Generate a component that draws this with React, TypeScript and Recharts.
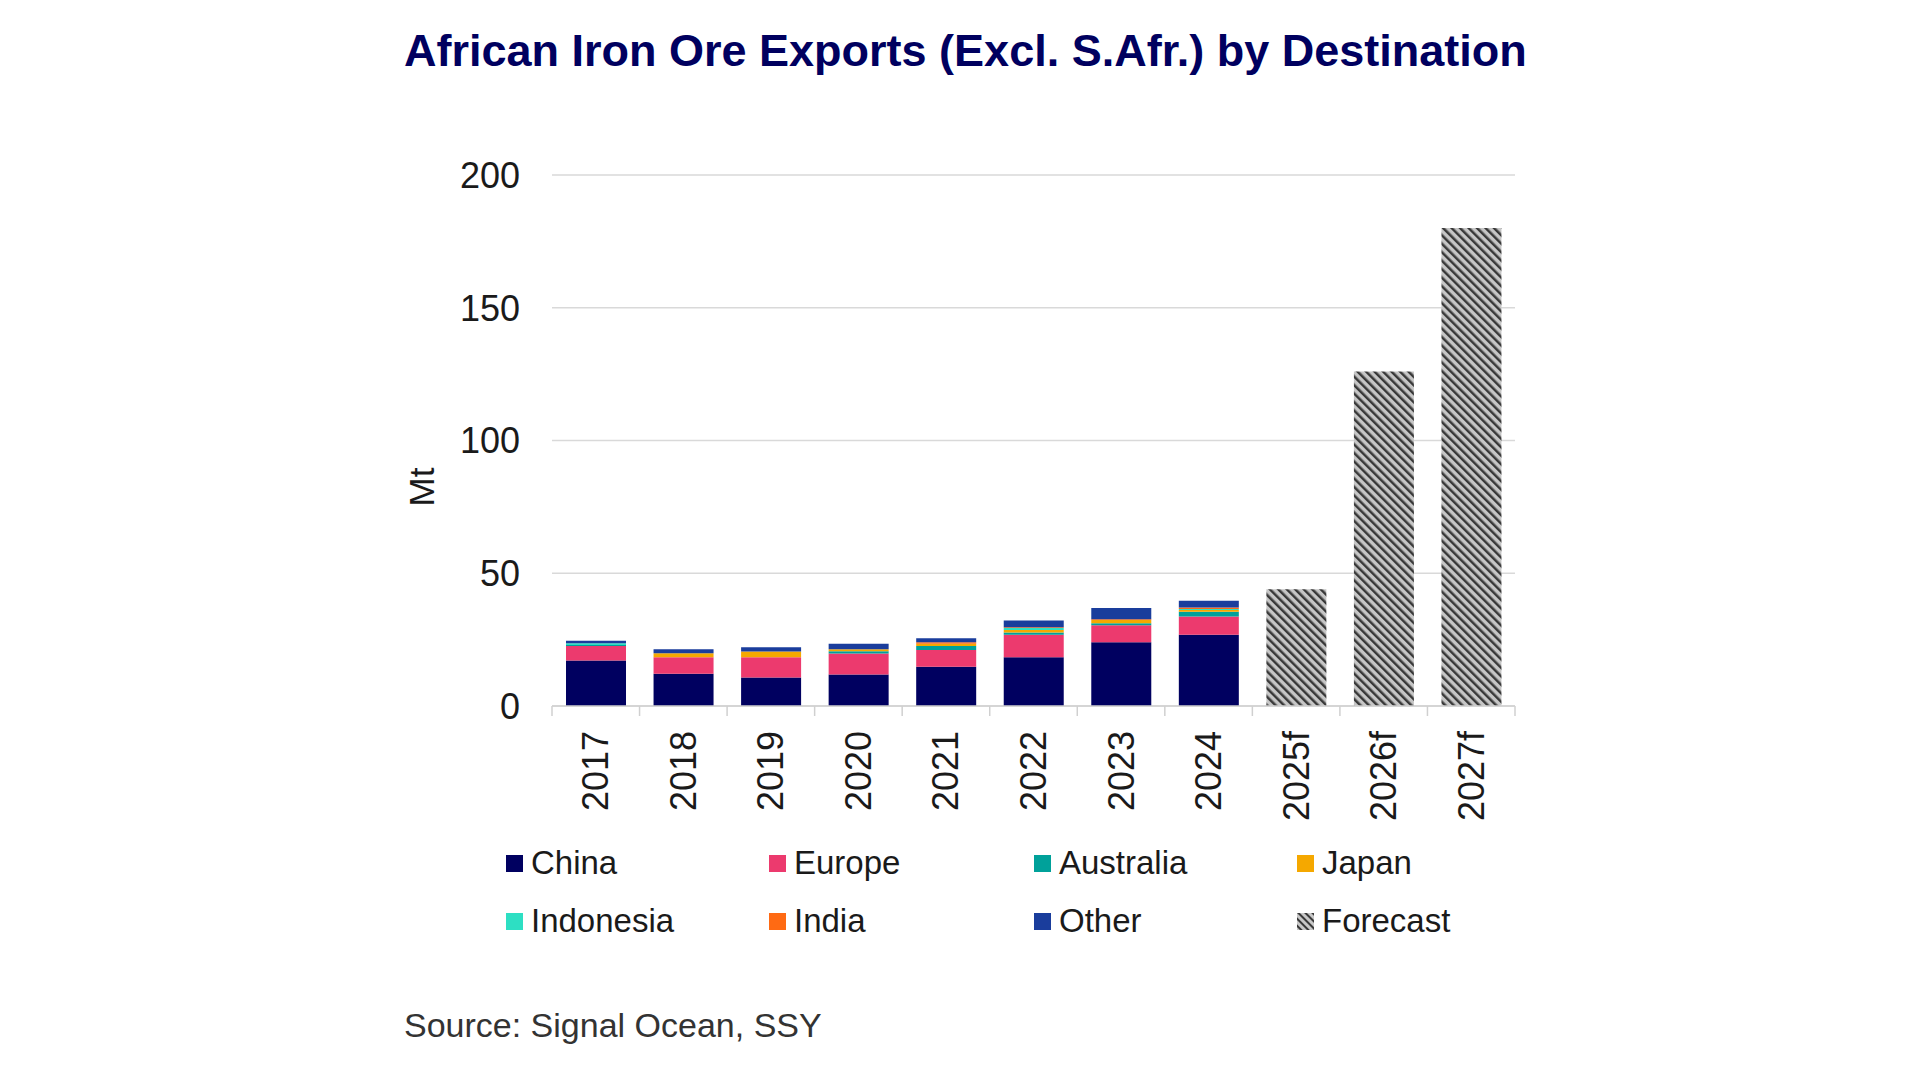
import { BarChart, Bar, XAxis, YAxis, CartesianGrid } from 'recharts';

const years = ['2017', '2018', '2019', '2020', '2021', '2022', '2023', '2024', '2025f', '2026f', '2027f'];
const china = [17.1, 12.1, 10.7, 11.9, 14.8, 18.4, 24.0, 26.8, null, null, null];
const europe = [5.5, 6.3, 7.7, 7.9, 6.3, 8.4, 6.4, 6.9, null, null, null];
const australia = [0.4, 0, 0, 0.8, 1.5, 0.9, 0.8, 1.8, null, null, null];
const japan = [0, 1.5, 2.1, 0.8, 0.8, 0.9, 1.2, 0.7, null, null, null];
const indonesia = [0.6, 0, 0, 0, 0, 0.8, 0, 0.3, null, null, null];
const india = [0, 0, 0, 0, 0.6, 0.3, 0.3, 0.6, null, null, null];
const other = [1.0, 1.5, 1.6, 2.0, 1.5, 2.5, 4.2, 2.5, null, null, null];
const forecast = [null, null, null, null, null, null, null, null, 44, 126, 180];
const yTicks = [0, 50, 100, 150, 200];

const series = [
  { key: 'China', values: china, color: '#000060' },
  { key: 'Europe', values: europe, color: '#ec3a6e' },
  { key: 'Australia', values: australia, color: '#00a19a' },
  { key: 'Japan', values: japan, color: '#f5a800' },
  { key: 'Indonesia', values: indonesia, color: '#2ddfc3' },
  { key: 'India', values: india, color: '#ff6a13' },
  { key: 'Other', values: other, color: '#1a3d9c' },
];

const data = years.map((year, i) => {
  const row: Record<string, string | number | null> = { year, Forecast: forecast[i] };
  series.forEach((s) => {
    row[s.key] = s.values[i];
  });
  return row;
});

// legend order as in the source, row by row
const legendItems = [...series.map((s) => ({ key: s.key, color: s.color })), { key: 'Forecast', color: 'hatch' }];
const legendCols = [506, 769, 1034, 1297];
const legendRows = [863, 921];

const font = '"Liberation Sans", Arial, sans-serif';

// year label plus Excel-style tick marks on the category boundaries
function YearTick(props: any) {
  const { x, y, width, payload, index, visibleTicksCount } = props;
  const half = width / visibleTicksCount / 2;
  const last = index === visibleTicksCount - 1;
  const ty = y + 25;
  return (
    <g>
      <line x1={x - half} x2={x - half} y1={y} y2={y + 10} stroke="#d0d0d0" strokeWidth={1.5} />
      {last && <line x1={x + half} x2={x + half} y1={y} y2={y + 10} stroke="#d0d0d0" strokeWidth={1.5} />}
      <text
        x={x}
        y={ty}
        transform={`rotate(-90, ${x}, ${ty})`}
        textAnchor="end"
        dominantBaseline="central"
        fontSize={36}
        fontFamily={font}
        fill="#1a1a1a"
      >
        {payload.value}
      </text>
    </g>
  );
}

function HatchSwatch() {
  return (
    <svg width={17} height={17}>
      <defs>
        <pattern id="hatchSmall" width="5" height="5" patternUnits="userSpaceOnUse" patternTransform="rotate(-45)">
          <rect width="5" height="5" fill="#c8c8c8" />
          <rect width="2" height="5" fill="#3a3a3a" />
        </pattern>
      </defs>
      <rect width={17} height={17} fill="url(#hatchSmall)" />
    </svg>
  );
}

export default function App() {
  return (
    <div style={{ position: 'absolute', left: 0, top: 0, width: 1920, height: 1080, background: '#fff', fontFamily: font }}>
      <div
        style={{
          position: 'absolute',
          left: 404,
          top: 25,
          fontSize: 45,
          lineHeight: '52px',
          fontWeight: 700,
          color: '#00005f',
          whiteSpace: 'nowrap',
        }}
      >
        African Iron Ore Exports (Excl. S.Afr.) by Destination
      </div>

      <div
        style={{
          position: 'absolute',
          left: 422,
          top: 487,
          fontSize: 35,
          color: '#1a1a1a',
          transform: 'translate(-50%, -50%) rotate(-90deg)',
          whiteSpace: 'nowrap',
        }}
      >
        Mt
      </div>

      <div style={{ position: 'absolute', left: 0, top: 0 }}>
        <BarChart
          width={1920}
          height={1080}
          data={data}
          barCategoryGap="16%"
          margin={{ top: 175, right: 405, left: 452, bottom: 254 }}
        >
          <defs>
            <pattern id="hatch" width="6" height="6" patternUnits="userSpaceOnUse" patternTransform="rotate(-45)">
              <rect width="6" height="6" fill="#c6c6c6" />
              <rect width="2.5" height="6" fill="#383838" />
            </pattern>
          </defs>
          <CartesianGrid vertical={false} stroke="#d9d9d9" strokeWidth={1.5} />
          <XAxis
            dataKey="year"
            height={120}
            axisLine={{ stroke: '#d0d0d0', strokeWidth: 1.5 }}
            tickLine={false}
            tickSize={0}
            tickMargin={0}
            interval={0}
            tick={<YearTick />}
          />
          <YAxis
            width={100}
            domain={[0, 200]}
            ticks={yTicks}
            axisLine={false}
            tickLine={false}
            tickMargin={26}
            tick={{ fontSize: 36, fill: '#1a1a1a', fontFamily: font }}
          />
          {series.map((s) => (
            <Bar key={s.key} dataKey={s.key} stackId="a" fill={s.color} isAnimationActive={false} />
          ))}
          <Bar dataKey="Forecast" stackId="a" fill="url(#hatch)" isAnimationActive={false} />
        </BarChart>
      </div>

      {legendItems.map((item, i) => (
        <div
          key={item.key}
          style={{
            position: 'absolute',
            left: legendCols[i % 4],
            top: legendRows[Math.floor(i / 4)] - 20,
            height: 40,
            display: 'flex',
            alignItems: 'center',
            gap: 8,
            fontSize: 33,
            color: '#1a1a1a',
            whiteSpace: 'nowrap',
          }}
        >
          {item.color === 'hatch' ? (
            <HatchSwatch />
          ) : (
            <div style={{ width: 17, height: 17, background: item.color }} />
          )}
          <span>{item.key}</span>
        </div>
      ))}

      <div
        style={{
          position: 'absolute',
          left: 404,
          top: 1005,
          fontSize: 34,
          lineHeight: '40px',
          color: '#333',
          whiteSpace: 'nowrap',
        }}
      >
        Source: Signal Ocean, SSY
      </div>
    </div>
  );
}
